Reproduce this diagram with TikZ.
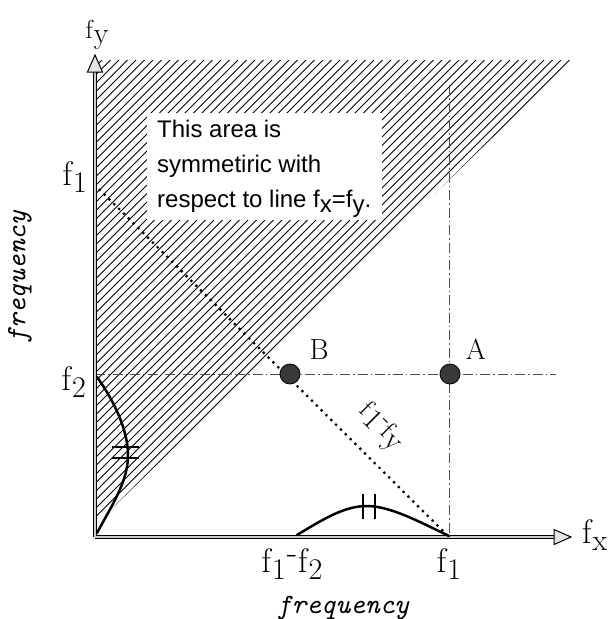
\documentclass[tikz,border=0pt]{standalone}
\usepackage{fontspec}
\newfontfamily\arialfont{Liberation Sans}
\usetikzlibrary{calc}
\newcommand\fsub[2]{f\kern1pt\raisebox{-#2}{\fontsize{30}{30}\selectfont #1}}
\begin{document}
\begin{tikzpicture}[x=1pt,y=-1pt,
  hatch/.style={line width=0.75pt},
  axisout/.style={line width=4pt, black},
  axisin/.style={line width=2pt, gray!40},
  headstyle/.style={line width=1pt, fill=gray!20, line join=miter},
  guide/.style={line width=0.6pt, gray!60!black, dash pattern=on 10pt off 3pt on 1.5pt off 3pt},
  dotline/.style={line width=3.2pt, line cap=round, dash pattern=on 0pt off 6.8pt},
  spec/.style={line width=2.5pt, line cap=round},
  tickmark/.style={line width=2pt},
  ptdot/.style={circle, draw=black, line width=0.8pt, fill=gray!45!black, minimum size=20pt, inner sep=0pt},
  lbl/.style={font=\fontsize{34}{34}\selectfont, inner sep=0pt},
  freq/.style={font=\fontsize{28}{28}\selectfont\ttfamily\itshape, inner sep=0pt},
]
\useasboundingbox (0,0) rectangle (611,619);
\coordinate (O) at (95,537);
\coordinate (Xtip) at (571,537);
\coordinate (Ytip) at (95,55);
\coordinate (F1y) at (95,185);
\coordinate (F1x) at (449,537);
\coordinate (F2y) at (95,374);
\coordinate (Hend) at (556,374);
\coordinate (Vtop) at (449,85);

% hatched area
\begin{scope}
\clip (95,525) -- (95,60) -- (572,60) -- cycle;
\foreach \c in {-560,-551.5,...,620} \draw[hatch] (\c,620) -- ++(620,-620);
\end{scope}

% text box
\fill[white] (147,113) rectangle (382,220);
\node[anchor=north west, inner sep=0pt, align=left, font=\arialfont\fontsize{24}{35}\selectfont] (note) at (157,120)
  {This area is\\symmetiric with\\respect to line f\raisebox{-5pt}{x}=f\raisebox{-5pt}{y}.};

% guide lines
\draw[guide] (Vtop) -- (F1x);
\draw[guide] (F2y) -- (Hend);

% dotted line f1 - fy
\draw[dotline] (F1y) -- (F1x);

% axes
\draw[axisout] (O) -- ($(Xtip)+(-14,0)$);
\draw[axisout] (O) -- ($(Ytip)+(0,14)$);
\draw[axisin] (O) -- ($(Xtip)+(-14,0)$);
\draw[axisin] (O) -- ($(Ytip)+(0,14)$);
\draw[headstyle] (Xtip) -- ++(-17,-7.5) -- ++(0,15) -- cycle;
\draw[headstyle] (Ytip) -- ++(-7.5,17) -- ++(15,0) -- cycle;

% spectra
\draw[spec] (97,533) .. controls (112,505) and (129,480) .. (128,453) .. controls (127,425) and (110,395) .. (97,377);
\draw[spec] (297,535) .. controls (325,518) and (345,506) .. (367,506) .. controls (390,506) and (420,522) .. (449,536);
\draw[tickmark] (112,447) -- (139,447);
\draw[tickmark] (112,458) -- (139,458);
\draw[tickmark] (363,494) -- (363,519);
\draw[tickmark] (375,494) -- (375,519);

% points
\node[ptdot] (B) at (290,374) {};
\node[ptdot] (A) at (450,374) {};
\node[lbl, font=\fontsize{29}{29}\selectfont, anchor=base] (Blbl) at (319,359) {B};
\node[lbl, font=\fontsize{29}{29}\selectfont, anchor=base] (Albl) at (476,359) {A};

% axis labels
\node[lbl, font=\fontsize{26}{26}\selectfont, anchor=base] (fy) at (97,38) {\fsub{y}{5pt}};
\node[lbl, anchor=base west] (fx) at (582,543) {\fsub{x}{7pt}};
\node[lbl, anchor=base east] (f1l) at (87,185) {\fsub{1}{7pt}};
\node[lbl, anchor=base east] (f2l) at (86,390) {\fsub{2}{7pt}};
\node[lbl, anchor=base] (f1f2) at (292,572) {\fsub{1}{7pt}\kern1pt\raisebox{9pt}{-}\kern1pt\fsub{2}{7pt}};
\node[lbl, anchor=base] (f1b) at (449,572) {\fsub{1}{7pt}};
\node[lbl, font=\fontsize{26}{26}\selectfont, rotate=-45] (f1fy) at (380,428) {\fsub{1}{5pt}\raisebox{7pt}{-}\fsub{y}{5pt}};

% frequency labels
\node[freq, rotate=90] (freqy) at (20,277) {frequency};
\node[freq] (freqx) at (343,608) {frequency};
\end{tikzpicture}
\end{document}
